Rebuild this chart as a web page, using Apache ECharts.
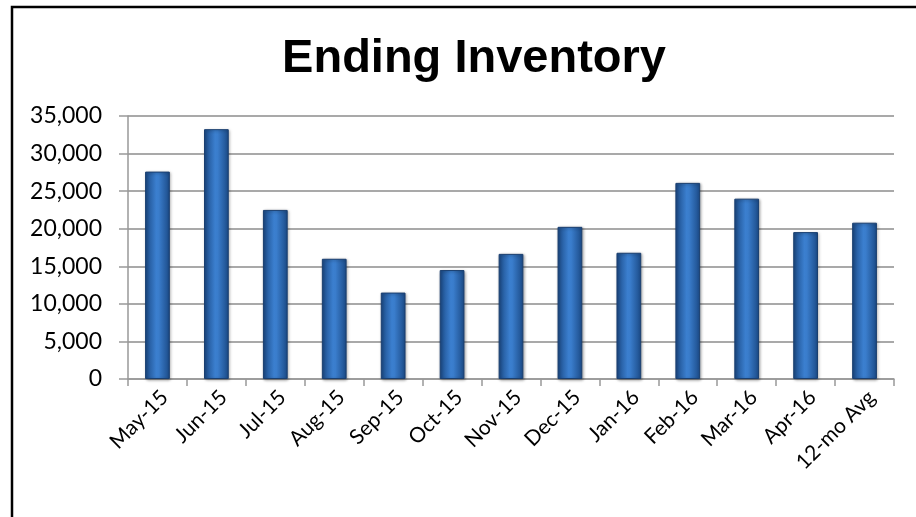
<!DOCTYPE html>
<html>
<head>
<meta charset="utf-8">
<title>Ending Inventory</title>
<script src="https://cdn.jsdelivr.net/npm/echarts@6/dist/echarts.min.js"></script>
<style>
    html, body { margin: 0; padding: 0; background: #fff; }
    #inventoryChart { width: 916px; height: 517px; }
</style>
</head>
<body>
<div id="inventoryChart"></div>
<script>
// Ending Inventory

var months = ['May-15', 'Jun-15', 'Jul-15', 'Aug-15', 'Sep-15', 'Oct-15', 'Nov-15',
    'Dec-15', 'Jan-16', 'Feb-16', 'Mar-16', 'Apr-16', '12-mo Avg'];
var inventory = [27600, 33250, 22500, 16000, 11500, 14500, 16650,
    20250, 16800, 26100, 24000, 19550, 20800];
var yTicks = [0, 5000, 10000, 15000, 20000, 25000, 30000, 35000];

document.addEventListener('DOMContentLoaded', () => {
    var barFill = new echarts.graphic.LinearGradient(0, 0, 1, 0, [
        { offset: 0, color: '#1b4a86' },
        { offset: 0.45, color: '#3b7fcf' },
        { offset: 0.55, color: '#3a7dcc' },
        { offset: 1, color: '#1b4a86' }
    ]);

    echarts.init(document.querySelector('#inventoryChart')).setOption({
        animation: false,
        title: {
            text: 'Ending Inventory',
            left: 469,
            top: 31,
            textAlign: 'center',
            textStyle: {
                fontFamily: 'Liberation Sans',
                fontWeight: 'bold',
                fontSize: 47,
                color: '#000'
            }
        },
        graphic: [
            {
                type: 'rect',
                shape: { x: 12, y: 7, width: 1000, height: 1000 },
                style: { fill: 'none', stroke: '#000', lineWidth: 2.5 },
                silent: true
            }
        ],
        grid: { left: 128, top: 116, right: 22, bottom: 138 },
        xAxis: {
            type: 'category',
            data: months,
            axisLine: { lineStyle: { color: '#999', width: 1.5 } },
            axisTick: { show: true, length: 7, alignWithLabel: false, lineStyle: { color: '#999', width: 1.5 } },
            axisLabel: {
                rotate: 45,
                interval: 0,
                margin: 22,
                padding: [0, -10, 0, 0],
                fontFamily: 'Lato',
                fontSize: 21,
                color: '#000'
            }
        },
        yAxis: {
            type: 'value',
            min: yTicks[0],
            max: yTicks[yTicks.length - 1],
            interval: 5000,
            axisLine: { show: true, lineStyle: { color: '#999', width: 1.5 } },
            axisTick: { show: true, length: 9, inside: false, lineStyle: { color: '#999', width: 1.5 } },
            splitLine: { lineStyle: { color: '#8c8c8c', width: 1.5 } },
            axisLabel: {
                margin: 26,
                fontFamily: 'Lato',
                fontSize: 23,
                color: '#000',
                formatter: (v) => v.toLocaleString('en-US')
            }
        },
        series: [
            {
                name: 'Ending Inventory',
                type: 'bar',
                data: inventory,
                barWidth: '42%',
                itemStyle: {
                    color: barFill,
                    borderColor: '#1a3f70',
                    borderWidth: 1,
                    shadowColor: 'rgba(0,0,0,0.35)',
                    shadowBlur: 3,
                    shadowOffsetX: 1,
                    shadowOffsetY: 1
                }
            }
        ]
    });
});
</script>
</body>
</html>
